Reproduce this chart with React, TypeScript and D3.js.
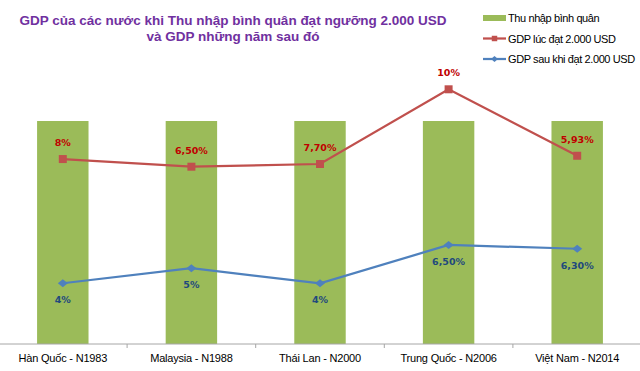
import * as d3 from "d3";
import { useEffect, useRef } from "react";

const categories = [
  "Hàn Quốc - N1983",
  "Malaysia - N1988",
  "Thái Lan - N2000",
  "Trung Quốc - N2006",
  "Việt Nam - N2014",
];
// Thu nhập bình quân (USD), same level for every country
const incomeValues = [2000, 2000, 2000, 2000, 2000];
// red line: plotted heights (as drawn) and their printed labels
const gdpAtValues = [12.33, 11.82, 12.0, 16.98, 12.55];
const gdpAtLabels = ["8%", "6,50%", "7,70%", "10%", "5,93%"];
// blue line
const gdpAfterValues = [4.05, 5.05, 4.05, 6.6, 6.35];
const gdpAfterLabels = ["4%", "5%", "4%", "6,50%", "6,30%"];

const titleLines = [
  "GDP của các nước khi Thu nhập bình quân đạt ngưỡng 2.000 USD",
  "và GDP những năm sau đó",
];
const legendItems = [
  { label: "Thu nhập bình quân", kind: "bar" },
  { label: "GDP lúc đạt 2.000 USD", kind: "red" },
  { label: "GDP sau khi đạt 2.000 USD", kind: "blue" },
];

const W = 640;
const H = 371;
const GREEN = "#9BBB59";
const RED = "#C0504D";
const BLUE = "#4F81BD";
const FONT = "'Liberation Sans', Arial, sans-serif";

const diamond = (w: number, h: number) =>
  `M${-w / 2},0L0,${-h / 2}L${w / 2},0L0,${h / 2}Z`;

export default function App() {
  const svgRef = useRef<SVGSVGElement>(null);

  useEffect(() => {
    const svg = d3.select(svgRef.current);
    svg.selectAll("*").remove();

    const baseY = 344;
    const x = d3
      .scaleBand()
      .domain(categories)
      .range([-1.5, 641.5])
      .paddingInner(0.6)
      .paddingOuter(0.3);
    const yBar = d3.scaleLinear().domain([0, 2000]).range([baseY, 121]);
    const yLine = d3.scaleLinear().domain([0, 17]).range([baseY, 89]);
    const cx = (c: string) => (x(c) || 0) + x.bandwidth() / 2;

    // title
    svg
      .append("g")
      .selectAll("text")
      .data(titleLines)
      .enter()
      .append("text")
      .attr("x", 233)
      .attr("y", (d, i) => 25 + i * 16)
      .attr("text-anchor", "middle")
      .attr("font-family", FONT)
      .attr("font-weight", "bold")
      .attr("font-size", 13.5)
      .attr("fill", "#7030A0")
      .text((d) => d);

    // bars
    svg
      .append("g")
      .selectAll("rect")
      .data(categories)
      .enter()
      .append("rect")
      .attr("x", (d) => x(d) || 0)
      .attr("y", (d, i) => yBar(incomeValues[i]))
      .attr("width", x.bandwidth())
      .attr("height", (d, i) => baseY - yBar(incomeValues[i]))
      .attr("fill", GREEN);

    // x axis
    const axis = svg
      .append("g")
      .attr("transform", `translate(0,${baseY})`)
      .call(d3.axisBottom(x).tickSize(0).tickPadding(0));
    axis.select(".domain").remove();
    axis.selectAll(".tick text").remove();
    axis
      .append("line")
      .attr("x1", 0)
      .attr("x2", W)
      .attr("stroke", "#A6A6A6")
      .attr("stroke-width", 1);
    const step = x.step();
    axis
      .selectAll(".sep")
      .data(categories.slice(1))
      .enter()
      .append("line")
      .attr("x1", (d) => (x(d) || 0) - (step - x.bandwidth()) / 2)
      .attr("x2", (d) => (x(d) || 0) - (step - x.bandwidth()) / 2)
      .attr("y1", 0)
      .attr("y2", 4)
      .attr("stroke", "#A6A6A6");
    svg
      .append("g")
      .selectAll("text")
      .data(categories)
      .enter()
      .append("text")
      .attr("x", (d) => cx(d))
      .attr("y", 362)
      .attr("text-anchor", "middle")
      .attr("font-family", FONT)
      .attr("font-size", 11)
      .attr("letter-spacing", -0.2)
      .attr("fill", "#000")
      .text((d) => d);

    const drawLine = (
      values: number[],
      labels: string[],
      color: string,
      labelColor: string,
      marker: "square" | "diamond",
      labelDy: number
    ) => {
      const g = svg.append("g");
      const line = d3
        .line<number>()
        .x((d, i) => cx(categories[i]))
        .y((d) => yLine(d));
      g.append("path")
        .datum(values)
        .attr("d", line)
        .attr("fill", "none")
        .attr("stroke", color)
        .attr("stroke-width", 2.25);
      const sym =
        marker === "square"
          ? d3.symbol().type(d3.symbolSquare).size(64)()
          : diamond(10, 8);
      g.selectAll("path.m")
        .data(values)
        .enter()
        .append("path")
        .attr("class", "m")
        .attr("d", sym)
        .attr(
          "transform",
          (d, i) => `translate(${cx(categories[i])},${yLine(d)})`
        )
        .attr("fill", color);
      g.selectAll("text")
        .data(values)
        .enter()
        .append("text")
        .attr("x", (d, i) => cx(categories[i]))
        .attr("y", (d) => yLine(d) + labelDy)
        .attr("text-anchor", "middle")
        .attr("font-family", "'DejaVu Sans', Verdana, sans-serif")
        .attr("font-weight", "bold")
        .attr("font-size", 9.5)
        .attr("fill", labelColor)
        .text((d, i) => labels[i]);
    };

    drawLine(gdpAtValues, gdpAtLabels, RED, "#C00000", "square", -13);
    drawLine(gdpAfterValues, gdpAfterLabels, BLUE, "#1F497D", "diamond", 20);

    // legend
    const lg = svg
      .append("g")
      .selectAll("g")
      .data(legendItems)
      .enter()
      .append("g")
      .attr("transform", (d, i) => `translate(483,${18 + i * 20.5})`);
    lg.filter((d) => d.kind === "bar")
      .append("rect")
      .attr("x", 0)
      .attr("y", -3)
      .attr("width", 23)
      .attr("height", 6)
      .attr("fill", GREEN);
    lg.filter((d) => d.kind !== "bar")
      .append("line")
      .attr("x1", 0)
      .attr("x2", 23)
      .attr("stroke", (d) => (d.kind === "red" ? RED : BLUE))
      .attr("stroke-width", 2.25);
    lg.filter((d) => d.kind !== "bar")
      .append("path")
      .attr("d", (d) =>
        d.kind === "red"
          ? d3.symbol().type(d3.symbolSquare).size(30)()
          : diamond(7, 6)
      )
      .attr("transform", "translate(11.5,0)")
      .attr("fill", (d) => (d.kind === "red" ? RED : BLUE));
    lg.append("text")
      .attr("x", 25)
      .attr("y", 4)
      .attr("font-family", FONT)
      .attr("font-size", 11)
      .attr("letter-spacing", -0.4)
      .attr("fill", "#000")
      .text((d) => d.label);
  }, []);

  return (
    <svg
      ref={svgRef}
      width={W}
      height={H}
      style={{ position: "absolute", left: 0, top: 0, background: "#fff" }}
    />
  );
}
